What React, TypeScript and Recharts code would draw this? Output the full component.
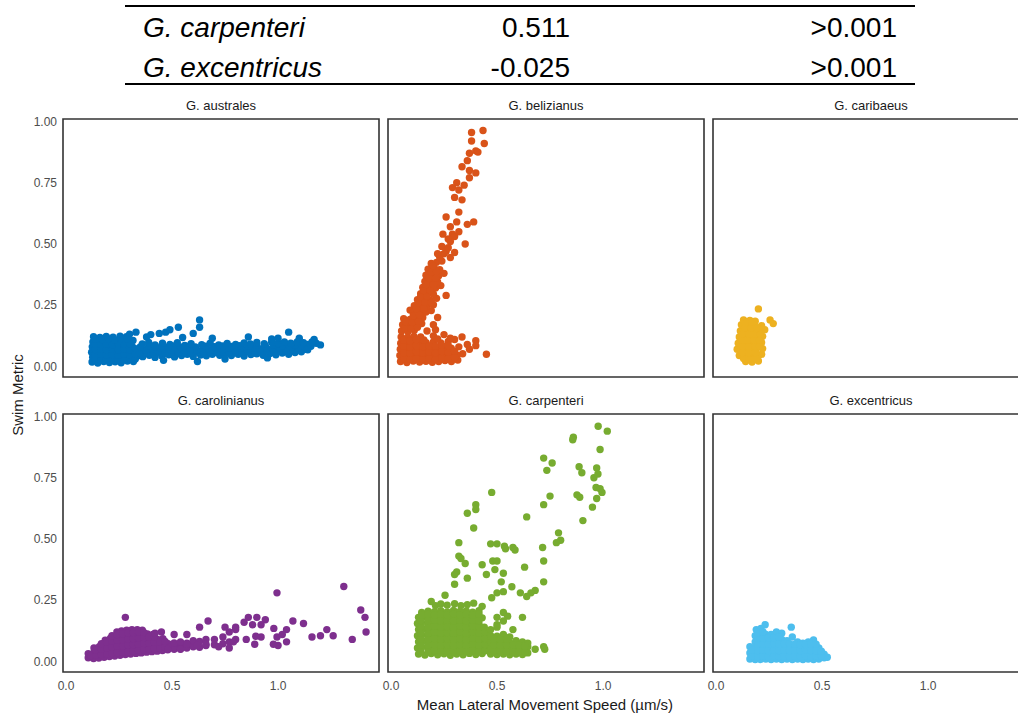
import React from 'react';
import { ScatterChart, Scatter, XAxis, YAxis, ReferenceArea } from 'recharts';

type Pt = [number, number];

// table above the facets
const tableSpecies = ['G. carpenteri', 'G. excentricus'];
const tableCoef = ['0.511', '-0.025'];
const tableP = ['>0.001', '>0.001'];

const speciesNames = [
  'G. australes',
  'G. belizianus',
  'G. caribaeus',
  'G. carolinianus',
  'G. carpenteri',
  'G. excentricus',
];
const speciesColors = ['#0072BD', '#D95319', '#EDB120', '#7E2F8E', '#77AC30', '#4DBEEE'];

const xTicks = [0, 0.5, 1];
const yTicks = [0, 0.25, 0.5, 0.75, 1];
const X_DOMAIN: [number, number] = [-0.014, 1.476];
const Y_DOMAIN: [number, number] = [-0.043, 1.01];

const australesData: Pt[] = [
  [0.123, 0.018], [0.15, 0.014], [0.178, 0.02], [0.205, 0.016], [0.232, 0.019], [0.26, 0.015], [0.29, 0.022], [0.318, 0.02],
  [0.126, 0.038], [0.152, 0.034], [0.18, 0.04], [0.207, 0.036], [0.235, 0.041], [0.262, 0.037], [0.288, 0.043], [0.315, 0.039], [0.34, 0.044],
  [0.121, 0.058], [0.149, 0.062], [0.176, 0.057], [0.203, 0.061], [0.23, 0.056], [0.258, 0.06], [0.285, 0.064], [0.312, 0.058], [0.338, 0.063],
  [0.124, 0.08], [0.151, 0.077], [0.179, 0.082], [0.206, 0.079], [0.233, 0.083], [0.26, 0.078], [0.287, 0.084], [0.314, 0.08],
  [0.127, 0.1], [0.154, 0.103], [0.18, 0.098], [0.208, 0.102], [0.236, 0.1], [0.262, 0.105], [0.29, 0.101], [0.316, 0.106],
  [0.13, 0.121], [0.16, 0.118], [0.19, 0.123], [0.222, 0.119], [0.255, 0.124], [0.285, 0.121], [0.3, 0.132],
  [0.137, 0.027], [0.164, 0.025], [0.191, 0.029], [0.219, 0.026], [0.247, 0.028], [0.274, 0.026], [0.301, 0.03], [0.327, 0.03],
  [0.137, 0.048], [0.164, 0.05], [0.191, 0.047], [0.219, 0.049], [0.247, 0.046], [0.274, 0.05], [0.301, 0.048], [0.327, 0.051],
  [0.137, 0.069], [0.164, 0.07], [0.191, 0.068], [0.219, 0.071], [0.247, 0.067], [0.274, 0.072], [0.301, 0.069], [0.327, 0.072],
  [0.137, 0.09], [0.164, 0.09], [0.191, 0.091], [0.219, 0.089], [0.247, 0.092], [0.274, 0.09], [0.301, 0.093],
  [0.14, 0.111], [0.17, 0.11], [0.2, 0.112], [0.23, 0.109], [0.26, 0.114], [0.29, 0.112],
  [0.362, 0.04], [0.393, 0.046], [0.42, 0.037], [0.452, 0.043], [0.485, 0.048], [0.512, 0.039], [0.545, 0.045], [0.572, 0.05],
  [0.6, 0.041], [0.635, 0.047], [0.662, 0.044], [0.69, 0.05], [0.725, 0.046], [0.752, 0.052], [0.78, 0.045], [0.812, 0.05],
  [0.84, 0.043], [0.872, 0.049], [0.9, 0.052], [0.93, 0.046], [0.962, 0.053], [0.99, 0.048], [1.02, 0.055], [1.05, 0.05],
  [1.08, 0.057], [1.11, 0.06],
  [0.35, 0.055], [0.38, 0.057], [0.41, 0.053], [0.44, 0.056], [0.47, 0.054], [0.5, 0.058], [0.53, 0.055], [0.56, 0.057],
  [0.59, 0.054], [0.62, 0.058], [0.65, 0.056], [0.68, 0.059], [0.71, 0.057], [0.74, 0.06], [0.77, 0.058], [0.8, 0.061],
  [0.83, 0.058], [0.86, 0.06], [0.89, 0.062], [0.92, 0.059], [0.95, 0.063], [0.98, 0.061], [1.01, 0.064], [1.04, 0.062],
  [1.07, 0.066], [1.1, 0.067], [1.13, 0.07],
  [0.375, 0.067], [0.405, 0.072], [0.435, 0.064], [0.465, 0.07], [0.497, 0.066], [0.528, 0.071], [0.558, 0.064], [0.588, 0.069],
  [0.618, 0.066], [0.648, 0.072], [0.678, 0.067], [0.708, 0.073], [0.738, 0.068], [0.768, 0.074], [0.798, 0.069], [0.828, 0.075],
  [0.856, 0.07], [0.886, 0.074], [0.916, 0.071], [0.946, 0.076], [0.976, 0.072], [1.006, 0.077], [1.036, 0.073], [1.066, 0.078],
  [1.096, 0.075], [1.126, 0.079], [1.155, 0.082],
  [0.35, 0.08], [0.39, 0.083], [0.42, 0.078], [0.45, 0.082], [0.48, 0.079], [0.51, 0.084], [0.54, 0.079], [0.57, 0.082],
  [0.61, 0.08], [0.66, 0.083], [0.7, 0.081], [0.74, 0.084], [0.78, 0.082], [0.82, 0.085], [0.86, 0.083], [0.9, 0.086],
  [0.94, 0.084], [0.98, 0.087], [1.02, 0.085], [1.05, 0.088], [1.08, 0.087], [1.11, 0.088], [1.14, 0.09],
  [0.36, 0.092], [0.39, 0.098], [0.42, 0.088], [0.455, 0.095], [0.49, 0.09], [0.525, 0.097], [0.56, 0.086], [0.59, 0.093],
  [0.64, 0.089], [0.68, 0.095], [0.72, 0.088], [0.76, 0.094], [0.8, 0.09], [0.84, 0.096], [0.87, 0.092], [0.9, 0.098],
  [0.935, 0.093], [0.97, 0.099], [1.0, 0.094], [1.03, 0.1], [1.06, 0.095], [1.09, 0.1], [1.12, 0.097],
  [0.33, 0.14], [0.4, 0.13], [0.44, 0.135], [0.47, 0.14], [0.49, 0.15], [0.53, 0.16], [0.6, 0.135], [0.63, 0.16],
  [0.63, 0.19], [0.62, 0.02], [0.86, 0.12], [1.05, 0.14], [1.17, 0.11], [1.18, 0.095], [1.2, 0.088], [1.1, 0.115],
  [0.97, 0.112], [0.69, 0.115], [0.55, 0.118], [0.38, 0.12], [0.75, 0.03], [0.95, 0.035], [0.46, 0.025], [1.0, 0.115],
  [1.14, 0.068], [1.16, 0.1],
];

const belizianusData: Pt[] = [
  [0.045, 0.02], [0.075, 0.016], [0.105, 0.022], [0.135, 0.018], [0.165, 0.021], [0.195, 0.017], [0.225, 0.02], [0.255, 0.024], [0.285, 0.02], [0.315, 0.026],
  [0.042, 0.045], [0.072, 0.042], [0.102, 0.048], [0.132, 0.044], [0.162, 0.047], [0.192, 0.043], [0.222, 0.049], [0.252, 0.045], [0.282, 0.05], [0.312, 0.046], [0.338, 0.052],
  [0.044, 0.07], [0.074, 0.067], [0.104, 0.073], [0.134, 0.069], [0.164, 0.072], [0.194, 0.068], [0.224, 0.074], [0.254, 0.07], [0.284, 0.075], [0.32, 0.08],
  [0.046, 0.095], [0.076, 0.092], [0.106, 0.098], [0.136, 0.094], [0.166, 0.097], [0.2, 0.1], [0.235, 0.096], [0.27, 0.102], [0.3, 0.11],
  [0.048, 0.12], [0.078, 0.118], [0.108, 0.123], [0.14, 0.12], [0.2, 0.125], [0.25, 0.13], [0.335, 0.12],
  [0.06, 0.032], [0.09, 0.03], [0.12, 0.034], [0.15, 0.031], [0.18, 0.033], [0.21, 0.03], [0.24, 0.035], [0.27, 0.032], [0.3, 0.036],
  [0.06, 0.057], [0.09, 0.055], [0.12, 0.06], [0.15, 0.056], [0.18, 0.059], [0.21, 0.055], [0.24, 0.061], [0.27, 0.058], [0.3, 0.062],
  [0.06, 0.082], [0.09, 0.08], [0.12, 0.085], [0.15, 0.081], [0.18, 0.084], [0.21, 0.082], [0.24, 0.086], [0.27, 0.085],
  [0.06, 0.107], [0.09, 0.105], [0.12, 0.11], [0.155, 0.108], [0.22, 0.112], [0.28, 0.115],
  [0.05, 0.145], [0.08, 0.142], [0.11, 0.148], [0.17, 0.145], [0.21, 0.15],
  [0.055, 0.17], [0.085, 0.168], [0.115, 0.172], [0.145, 0.175], [0.2, 0.17],
  [0.06, 0.195], [0.09, 0.192], [0.12, 0.197], [0.15, 0.2], [0.22, 0.2],
  [0.09, 0.23], [0.105, 0.22], [0.135, 0.225], [0.165, 0.222], [0.19, 0.228],
  [0.11, 0.248], [0.14, 0.25], [0.17, 0.246], [0.2, 0.252],
  [0.125, 0.272], [0.155, 0.275], [0.185, 0.27], [0.215, 0.278],
  [0.14, 0.297], [0.17, 0.3], [0.2, 0.295], [0.26, 0.29],
  [0.15, 0.322], [0.18, 0.325], [0.21, 0.32], [0.235, 0.33],
  [0.16, 0.347], [0.19, 0.35], [0.22, 0.345],
  [0.165, 0.372], [0.195, 0.375], [0.225, 0.37], [0.25, 0.38],
  [0.175, 0.397], [0.205, 0.4], [0.23, 0.395],
  [0.19, 0.42], [0.215, 0.425], [0.24, 0.43],
  [0.065, 0.157], [0.095, 0.155], [0.125, 0.16], [0.07, 0.182], [0.1, 0.18], [0.13, 0.185], [0.105, 0.207], [0.135, 0.21],
  [0.12, 0.237], [0.155, 0.236], [0.13, 0.26], [0.16, 0.262], [0.19, 0.26], [0.14, 0.285], [0.17, 0.287], [0.155, 0.31],
  [0.185, 0.31], [0.165, 0.335], [0.2, 0.335], [0.18, 0.36], [0.21, 0.36], [0.19, 0.385], [0.215, 0.388], [0.2, 0.41],
  [0.434, 0.963], [0.38, 0.955], [0.44, 0.91], [0.38, 0.92], [0.4, 0.88], [0.37, 0.87], [0.41, 0.875], [0.36, 0.84],
  [0.335, 0.815], [0.37, 0.8], [0.4, 0.79], [0.37, 0.77], [0.345, 0.74], [0.31, 0.75], [0.29, 0.73], [0.32, 0.72],
  [0.3, 0.69], [0.335, 0.68], [0.32, 0.63], [0.26, 0.61], [0.31, 0.59], [0.36, 0.58], [0.39, 0.59], [0.28, 0.57],
  [0.245, 0.54], [0.29, 0.54], [0.3, 0.53], [0.28, 0.51], [0.24, 0.49], [0.35, 0.5], [0.3, 0.465], [0.28, 0.445],
  [0.23, 0.445], [0.26, 0.47], [0.25, 0.46], [0.27, 0.52], [0.32, 0.55], [0.27, 0.485], [0.22, 0.46],
  [0.45, 0.05], [0.4, 0.105], [0.4, 0.085], [0.36, 0.09], [0.37, 0.07],
];

const caribaeusData: Pt[] = [
  [0.14, 0.02], [0.17, 0.018], [0.2, 0.022],
  [0.11, 0.045], [0.14, 0.043], [0.17, 0.047], [0.2, 0.044], [0.215, 0.05],
  [0.1, 0.07], [0.13, 0.068], [0.16, 0.072], [0.19, 0.069], [0.22, 0.073],
  [0.105, 0.095], [0.135, 0.093], [0.165, 0.097], [0.195, 0.094], [0.215, 0.098],
  [0.11, 0.12], [0.14, 0.118], [0.17, 0.122], [0.2, 0.119], [0.22, 0.123],
  [0.115, 0.145], [0.145, 0.143], [0.175, 0.147], [0.205, 0.144], [0.23, 0.15],
  [0.12, 0.17], [0.15, 0.168], [0.18, 0.172], [0.215, 0.166],
  [0.13, 0.19], [0.16, 0.188], [0.185, 0.185],
  [0.13, 0.032], [0.155, 0.032], [0.185, 0.032],
  [0.125, 0.057], [0.155, 0.057], [0.185, 0.057], [0.125, 0.082], [0.155, 0.082], [0.185, 0.082], [0.205, 0.082],
  [0.12, 0.107], [0.15, 0.107], [0.18, 0.107], [0.205, 0.107], [0.125, 0.132], [0.155, 0.132], [0.185, 0.132], [0.21, 0.132],
  [0.135, 0.157], [0.165, 0.157], [0.195, 0.157], [0.145, 0.18], [0.17, 0.18],
  [0.2, 0.235], [0.255, 0.19], [0.27, 0.175],
];

const carolinianusData: Pt[] = [
  [0.105, 0.015], [0.105, 0.032],
  [0.13, 0.012], [0.13, 0.035], [0.132, 0.055],
  [0.155, 0.014], [0.155, 0.038], [0.157, 0.06],
  [0.18, 0.017], [0.18, 0.042], [0.182, 0.065], [0.185, 0.087],
  [0.205, 0.02], [0.205, 0.045], [0.207, 0.07], [0.21, 0.095],
  [0.23, 0.022], [0.23, 0.048], [0.232, 0.073], [0.234, 0.098], [0.24, 0.12],
  [0.255, 0.025], [0.255, 0.05], [0.257, 0.075], [0.259, 0.1], [0.262, 0.125],
  [0.28, 0.028], [0.28, 0.053], [0.282, 0.078], [0.284, 0.103], [0.286, 0.128],
  [0.305, 0.03], [0.305, 0.055], [0.307, 0.08], [0.309, 0.105], [0.311, 0.13],
  [0.33, 0.033], [0.33, 0.058], [0.332, 0.083], [0.334, 0.108], [0.336, 0.13],
  [0.355, 0.035], [0.355, 0.06], [0.357, 0.085], [0.359, 0.11], [0.36, 0.128],
  [0.38, 0.038], [0.38, 0.062], [0.382, 0.088], [0.384, 0.112],
  [0.405, 0.04], [0.405, 0.065], [0.407, 0.09], [0.41, 0.11],
  [0.43, 0.042], [0.43, 0.068], [0.432, 0.09],
  [0.455, 0.045], [0.455, 0.07], [0.457, 0.093],
  [0.48, 0.048], [0.482, 0.072],
  [0.117, 0.024], [0.142, 0.025], [0.142, 0.046], [0.167, 0.028], [0.167, 0.05], [0.167, 0.073],
  [0.192, 0.03], [0.192, 0.055], [0.192, 0.078], [0.217, 0.033], [0.217, 0.058], [0.217, 0.083], [0.217, 0.105],
  [0.242, 0.036], [0.242, 0.062], [0.242, 0.087], [0.242, 0.11], [0.267, 0.038], [0.267, 0.063], [0.267, 0.088], [0.267, 0.113],
  [0.292, 0.04], [0.292, 0.066], [0.292, 0.092], [0.292, 0.117], [0.317, 0.043], [0.317, 0.068], [0.317, 0.094], [0.317, 0.118],
  [0.342, 0.046], [0.342, 0.07], [0.342, 0.096], [0.342, 0.12], [0.367, 0.048], [0.367, 0.073], [0.367, 0.098], [0.367, 0.118],
  [0.392, 0.05], [0.392, 0.075], [0.392, 0.1], [0.417, 0.053], [0.417, 0.078], [0.417, 0.1], [0.442, 0.056], [0.442, 0.08],
  [0.467, 0.058], [0.467, 0.082], [0.495, 0.06], [0.525, 0.063], [0.555, 0.065], [0.585, 0.07], [0.615, 0.072],
  [0.51, 0.05], [0.51, 0.076], [0.54, 0.052], [0.54, 0.08], [0.57, 0.055], [0.57, 0.075], [0.6, 0.06], [0.6, 0.085],
  [0.63, 0.058], [0.63, 0.082], [0.66, 0.065], [0.66, 0.09], [0.7, 0.068], [0.74, 0.072], [0.74, 0.1], [0.77, 0.08],
  [0.77, 0.12], [0.8, 0.09], [0.8, 0.13],
  [1.31, 0.306], [0.995, 0.28], [1.39, 0.21], [1.41, 0.18], [1.415, 0.12], [1.35, 0.09], [1.23, 0.13], [1.26, 0.105],
  [1.2, 0.105], [1.16, 0.1], [1.12, 0.155], [1.07, 0.165], [1.04, 0.13], [1.04, 0.08], [1.0, 0.065], [0.98, 0.135],
  [0.94, 0.17], [0.9, 0.18], [0.86, 0.18], [0.92, 0.15], [0.88, 0.15], [0.84, 0.16], [0.8, 0.14], [0.75, 0.14],
  [0.67, 0.165], [0.63, 0.14], [0.28, 0.18], [0.45, 0.12], [0.42, 0.115], [0.51, 0.11], [0.57, 0.11], [0.79, 0.08],
  [0.85, 0.09], [0.92, 0.1], [0.89, 0.07], [0.995, 0.1], [1.02, 0.11], [0.72, 0.06], [0.77, 0.055], [0.7, 0.09],
  [0.66, 0.07], [0.62, 0.065], [0.57, 0.07], [0.54, 0.05], [0.48, 0.05], [0.978, 0.07], [0.895, 0.103],
];

const carpenteriData: Pt[] = [
  [0.13, 0.03], [0.16, 0.026], [0.19, 0.032], [0.22, 0.027], [0.25, 0.031], [0.28, 0.025], [0.31, 0.03], [0.34, 0.027], [0.37, 0.033], [0.4, 0.028], [0.43, 0.032],
  [0.125, 0.055], [0.145, 0.058], [0.175, 0.053], [0.205, 0.057], [0.235, 0.052], [0.265, 0.058], [0.295, 0.054], [0.325, 0.056], [0.355, 0.051], [0.385, 0.057], [0.415, 0.053], [0.445, 0.058],
  [0.13, 0.08], [0.16, 0.083], [0.19, 0.078], [0.22, 0.082], [0.25, 0.077], [0.28, 0.083], [0.31, 0.079], [0.34, 0.081], [0.37, 0.077], [0.4, 0.082], [0.43, 0.079],
  [0.125, 0.105], [0.145, 0.108], [0.175, 0.103], [0.205, 0.107], [0.235, 0.102], [0.265, 0.108], [0.295, 0.104], [0.325, 0.106], [0.355, 0.101], [0.385, 0.107], [0.415, 0.103], [0.445, 0.108],
  [0.13, 0.13], [0.16, 0.133], [0.19, 0.128], [0.22, 0.132], [0.25, 0.127], [0.28, 0.133], [0.31, 0.129], [0.34, 0.131], [0.37, 0.127], [0.4, 0.132], [0.43, 0.128],
  [0.125, 0.155], [0.145, 0.158], [0.175, 0.153], [0.205, 0.157], [0.235, 0.152], [0.265, 0.158], [0.295, 0.154], [0.325, 0.156], [0.355, 0.151], [0.385, 0.157], [0.415, 0.153],
  [0.13, 0.18], [0.16, 0.183], [0.19, 0.178], [0.22, 0.182], [0.25, 0.177], [0.28, 0.183], [0.31, 0.179], [0.34, 0.181], [0.37, 0.177], [0.4, 0.182], [0.43, 0.178],
  [0.145, 0.2], [0.175, 0.205], [0.205, 0.203], [0.235, 0.207], [0.265, 0.202], [0.295, 0.208], [0.325, 0.204], [0.355, 0.206], [0.385, 0.201], [0.415, 0.207],
  [0.21, 0.228], [0.235, 0.235], [0.265, 0.23], [0.3, 0.236], [0.33, 0.228], [0.36, 0.232], [0.39, 0.238], [0.43, 0.225],
  [0.14, 0.042], [0.175, 0.04], [0.205, 0.044], [0.235, 0.041], [0.265, 0.043], [0.295, 0.04], [0.325, 0.044], [0.355, 0.041], [0.385, 0.045], [0.415, 0.042], [0.445, 0.044],
  [0.14, 0.067], [0.175, 0.066], [0.205, 0.069], [0.235, 0.066], [0.265, 0.068], [0.295, 0.065], [0.325, 0.069], [0.355, 0.066], [0.385, 0.07], [0.415, 0.067], [0.445, 0.069],
  [0.14, 0.092], [0.175, 0.09], [0.205, 0.094], [0.235, 0.091], [0.265, 0.093], [0.295, 0.09], [0.325, 0.094], [0.355, 0.091], [0.385, 0.095], [0.415, 0.092], [0.445, 0.094],
  [0.14, 0.117], [0.175, 0.116], [0.205, 0.119], [0.235, 0.116], [0.265, 0.118], [0.295, 0.115], [0.325, 0.119], [0.355, 0.116], [0.385, 0.12], [0.415, 0.117], [0.445, 0.119],
  [0.14, 0.142], [0.175, 0.14], [0.205, 0.144], [0.235, 0.141], [0.265, 0.143], [0.295, 0.14], [0.325, 0.144], [0.355, 0.141], [0.385, 0.145], [0.415, 0.142], [0.44, 0.14],
  [0.14, 0.167], [0.175, 0.166], [0.205, 0.169], [0.235, 0.166], [0.265, 0.168], [0.295, 0.165], [0.325, 0.169], [0.355, 0.166], [0.385, 0.17], [0.415, 0.167],
  [0.145, 0.19], [0.175, 0.192], [0.205, 0.19], [0.235, 0.193], [0.265, 0.19], [0.295, 0.194], [0.325, 0.191], [0.355, 0.193], [0.385, 0.19], [0.415, 0.194],
  [0.47, 0.03], [0.47, 0.055], [0.47, 0.08], [0.47, 0.105], [0.47, 0.13],
  [0.5, 0.028], [0.5, 0.053], [0.5, 0.078], [0.5, 0.103], [0.5, 0.15],
  [0.53, 0.03], [0.53, 0.055], [0.53, 0.08], [0.53, 0.11], [0.53, 0.165],
  [0.56, 0.027], [0.56, 0.052], [0.56, 0.078], [0.56, 0.1],
  [0.59, 0.03], [0.59, 0.055], [0.59, 0.085],
  [0.62, 0.028], [0.62, 0.05], [0.62, 0.08],
  [0.645, 0.035], [0.645, 0.06], [0.645, 0.075],
  [0.485, 0.042], [0.485, 0.067], [0.485, 0.092], [0.515, 0.04], [0.515, 0.066], [0.515, 0.09], [0.545, 0.042], [0.545, 0.067],
  [0.545, 0.092], [0.575, 0.04], [0.575, 0.066], [0.605, 0.042], [0.605, 0.067], [0.632, 0.04], [0.632, 0.062],
  [0.977, 0.96], [1.02, 0.94], [0.86, 0.915], [0.857, 0.905], [0.986, 0.865], [0.72, 0.83], [0.76, 0.81], [0.735, 0.78],
  [0.887, 0.795], [0.9, 0.77], [0.97, 0.79], [0.957, 0.75], [0.976, 0.765], [0.967, 0.71], [0.986, 0.705], [0.995, 0.69],
  [0.97, 0.665], [0.877, 0.68], [0.89, 0.67], [0.95, 0.63], [0.905, 0.575], [0.475, 0.69], [0.75, 0.675], [0.72, 0.64],
  [0.4, 0.64], [0.4, 0.62], [0.36, 0.605], [0.64, 0.59], [0.39, 0.545], [0.79, 0.525], [0.8, 0.495], [0.78, 0.485],
  [0.32, 0.485], [0.47, 0.48], [0.5, 0.48], [0.535, 0.47], [0.54, 0.46], [0.575, 0.465], [0.585, 0.455], [0.715, 0.465],
  [0.32, 0.43], [0.33, 0.42], [0.35, 0.4], [0.43, 0.395], [0.48, 0.41], [0.5, 0.41], [0.72, 0.41], [0.63, 0.385],
  [0.31, 0.365], [0.49, 0.375], [0.45, 0.355], [0.53, 0.36], [0.3, 0.355], [0.36, 0.34], [0.72, 0.325], [0.52, 0.325],
  [0.3, 0.315], [0.57, 0.305], [0.68, 0.29], [0.66, 0.28], [0.64, 0.265], [0.5, 0.28], [0.53, 0.285], [0.255, 0.27],
  [0.61, 0.28], [0.19, 0.245], [0.475, 0.26], [0.62, 0.18], [0.53, 0.2], [0.55, 0.185], [0.5, 0.18], [0.5, 0.14],
  [0.575, 0.13], [0.72, 0.06], [0.68, 0.05], [0.725, 0.05],
];

const excentricusData: Pt[] = [
  [0.16, 0.01], [0.16, 0.035], [0.16, 0.06],
  [0.185, 0.008], [0.185, 0.03], [0.185, 0.055], [0.185, 0.08], [0.185, 0.105], [0.19, 0.13],
  [0.21, 0.008], [0.21, 0.032], [0.21, 0.057], [0.21, 0.082], [0.21, 0.107], [0.212, 0.135],
  [0.235, 0.01], [0.235, 0.035], [0.235, 0.06], [0.235, 0.085], [0.235, 0.11], [0.232, 0.15],
  [0.26, 0.008], [0.26, 0.033], [0.26, 0.058], [0.26, 0.083], [0.26, 0.11],
  [0.285, 0.01], [0.285, 0.035], [0.285, 0.06], [0.285, 0.085], [0.285, 0.12],
  [0.31, 0.008], [0.31, 0.033], [0.31, 0.058], [0.31, 0.09], [0.31, 0.115],
  [0.335, 0.01], [0.335, 0.035], [0.335, 0.06], [0.335, 0.085],
  [0.36, 0.008], [0.36, 0.033], [0.36, 0.058], [0.36, 0.1], [0.355, 0.14],
  [0.385, 0.01], [0.385, 0.035], [0.385, 0.06], [0.385, 0.08],
  [0.41, 0.008], [0.41, 0.033], [0.41, 0.058], [0.41, 0.075],
  [0.435, 0.01], [0.435, 0.035], [0.435, 0.06], [0.435, 0.08],
  [0.46, 0.008], [0.46, 0.033], [0.46, 0.058], [0.46, 0.088],
  [0.485, 0.01], [0.485, 0.035], [0.485, 0.055],
  [0.51, 0.015], [0.51, 0.03], [0.525, 0.017],
  [0.172, 0.022], [0.172, 0.047], [0.197, 0.02], [0.197, 0.045], [0.197, 0.07], [0.197, 0.095], [0.197, 0.118],
  [0.222, 0.022], [0.222, 0.047], [0.222, 0.07], [0.222, 0.095], [0.222, 0.12], [0.247, 0.02], [0.247, 0.045],
  [0.247, 0.07], [0.247, 0.097], [0.272, 0.022], [0.272, 0.047], [0.272, 0.072], [0.272, 0.097], [0.297, 0.02],
  [0.297, 0.045], [0.297, 0.072], [0.297, 0.1], [0.322, 0.022], [0.322, 0.047], [0.322, 0.072], [0.347, 0.02],
  [0.347, 0.045], [0.347, 0.072], [0.372, 0.022], [0.372, 0.047], [0.372, 0.07], [0.397, 0.02], [0.397, 0.045],
  [0.397, 0.068], [0.422, 0.022], [0.422, 0.047], [0.422, 0.068], [0.447, 0.02], [0.447, 0.045], [0.447, 0.07],
  [0.472, 0.022], [0.472, 0.045], [0.472, 0.07], [0.497, 0.022], [0.497, 0.042],
];

const speciesData = [australesData, belizianusData, caribaeusData, carolinianusData, carpenteriData, excentricusData];

const FONT = '"Liberation Sans", Arial, sans-serif';
const PLOT_W = 316;
const PLOT_H = 258;
const PAD = 12;
const colLeft = [63, 388, 713];
const rowTop = [119, 414];
const Y_AXIS_W = 50;
const X_AXIS_H = 26;

function Panel({ index }: { index: number }) {
  const col = index % 3;
  const row = Math.floor(index / 3);
  const showY = col === 0;
  const showX = row === 1;
  const yW = showY ? Y_AXIS_W : 0;
  const xH = showX ? X_AXIS_H : 0;
  const color = speciesColors[index];
  const points = speciesData[index].map(([x, y]) => ({ x, y }));
  const left = colLeft[col];
  const top = rowTop[row];

  return (
    <>
      <div
        style={{
          position: 'absolute',
          left,
          top: top - 21,
          width: PLOT_W,
          textAlign: 'center',
          fontSize: 13,
          lineHeight: '16px',
          color: '#1a1a1a',
        }}
      >
        {speciesNames[index]}
      </div>
      <div style={{ position: 'absolute', left: left - yW - PAD, top: top - PAD }}>
        <ScatterChart
          width={PLOT_W + yW + PAD * 2}
          height={PLOT_H + xH + PAD * 2}
          margin={{ top: PAD, right: PAD, bottom: PAD, left: PAD }}
        >
          <XAxis
            type="number"
            dataKey="x"
            domain={X_DOMAIN}
            allowDataOverflow
            ticks={xTicks}
            interval={0}
            hide={!showX}
            height={X_AXIS_H}
            axisLine={false}
            tickLine={false}
            tickSize={0}
            tickMargin={9}
            tick={{ fill: '#4d4d4d', fontSize: 12, fontFamily: FONT }}
            tickFormatter={(v: number) => v.toFixed(1)}
          />
          <YAxis
            type="number"
            dataKey="y"
            domain={Y_DOMAIN}
            allowDataOverflow
            ticks={yTicks}
            interval={0}
            hide={!showY}
            width={Y_AXIS_W}
            axisLine={false}
            tickLine={false}
            tickSize={0}
            tickMargin={6}
            tick={{ fill: '#4d4d4d', fontSize: 12, fontFamily: FONT }}
            tickFormatter={(v: number) => v.toFixed(2)}
          />
          <Scatter
            data={points}
            fill={color}
            isAnimationActive={false}
            shape={(p: any) => <circle cx={p.cx} cy={p.cy} r={3.7} fill={color} />}
          />
          <ReferenceArea
            x1={X_DOMAIN[0]}
            x2={X_DOMAIN[1]}
            y1={Y_DOMAIN[0]}
            y2={Y_DOMAIN[1]}
            fill="none"
            fillOpacity={0}
            stroke="#333333"
            strokeWidth={1.6}
          />
        </ScatterChart>
      </div>
    </>
  );
}

export default function App() {
  return (
    <div
      style={{
        position: 'absolute',
        left: 0,
        top: 0,
        width: 1018,
        height: 715,
        overflow: 'hidden',
        background: '#ffffff',
        fontFamily: FONT,
      }}
    >
      {/* stats table */}
      <div style={{ position: 'absolute', left: 125, top: 5, width: 790, height: 2, background: '#000' }} />
      <div style={{ position: 'absolute', left: 125, top: 83, width: 790, height: 2, background: '#000' }} />
      {tableSpecies.map((name, i) => (
        <React.Fragment key={name}>
          <div
            style={{
              position: 'absolute',
              left: 143,
              top: 12 + i * 40,
              fontSize: 28,
              lineHeight: '32px',
              fontStyle: 'italic',
              color: '#000',
            }}
          >
            {name}
          </div>
          <div
            style={{
              position: 'absolute',
              left: 420,
              width: 150,
              top: 12 + i * 40,
              textAlign: 'right',
              fontSize: 28,
              lineHeight: '32px',
              color: '#000',
            }}
          >
            {tableCoef[i]}
          </div>
          <div
            style={{
              position: 'absolute',
              left: 747,
              width: 150,
              top: 12 + i * 40,
              textAlign: 'right',
              fontSize: 28,
              lineHeight: '32px',
              color: '#000',
            }}
          >
            {tableP[i]}
          </div>
        </React.Fragment>
      ))}

      {speciesNames.map((_, i) => (
        <Panel key={i} index={i} />
      ))}

      <div
        style={{
          position: 'absolute',
          left: 17,
          top: 395,
          transform: 'translate(-50%, -50%) rotate(-90deg)',
          whiteSpace: 'nowrap',
          fontSize: 15,
          color: '#1a1a1a',
        }}
      >
        Swim Metric
      </div>
      <div
        style={{
          position: 'absolute',
          left: 245,
          width: 600,
          top: 696,
          textAlign: 'center',
          fontSize: 15,
          lineHeight: '18px',
          color: '#1a1a1a',
        }}
      >
        Mean Lateral Movement Speed (µm/s)
      </div>
    </div>
  );
}
